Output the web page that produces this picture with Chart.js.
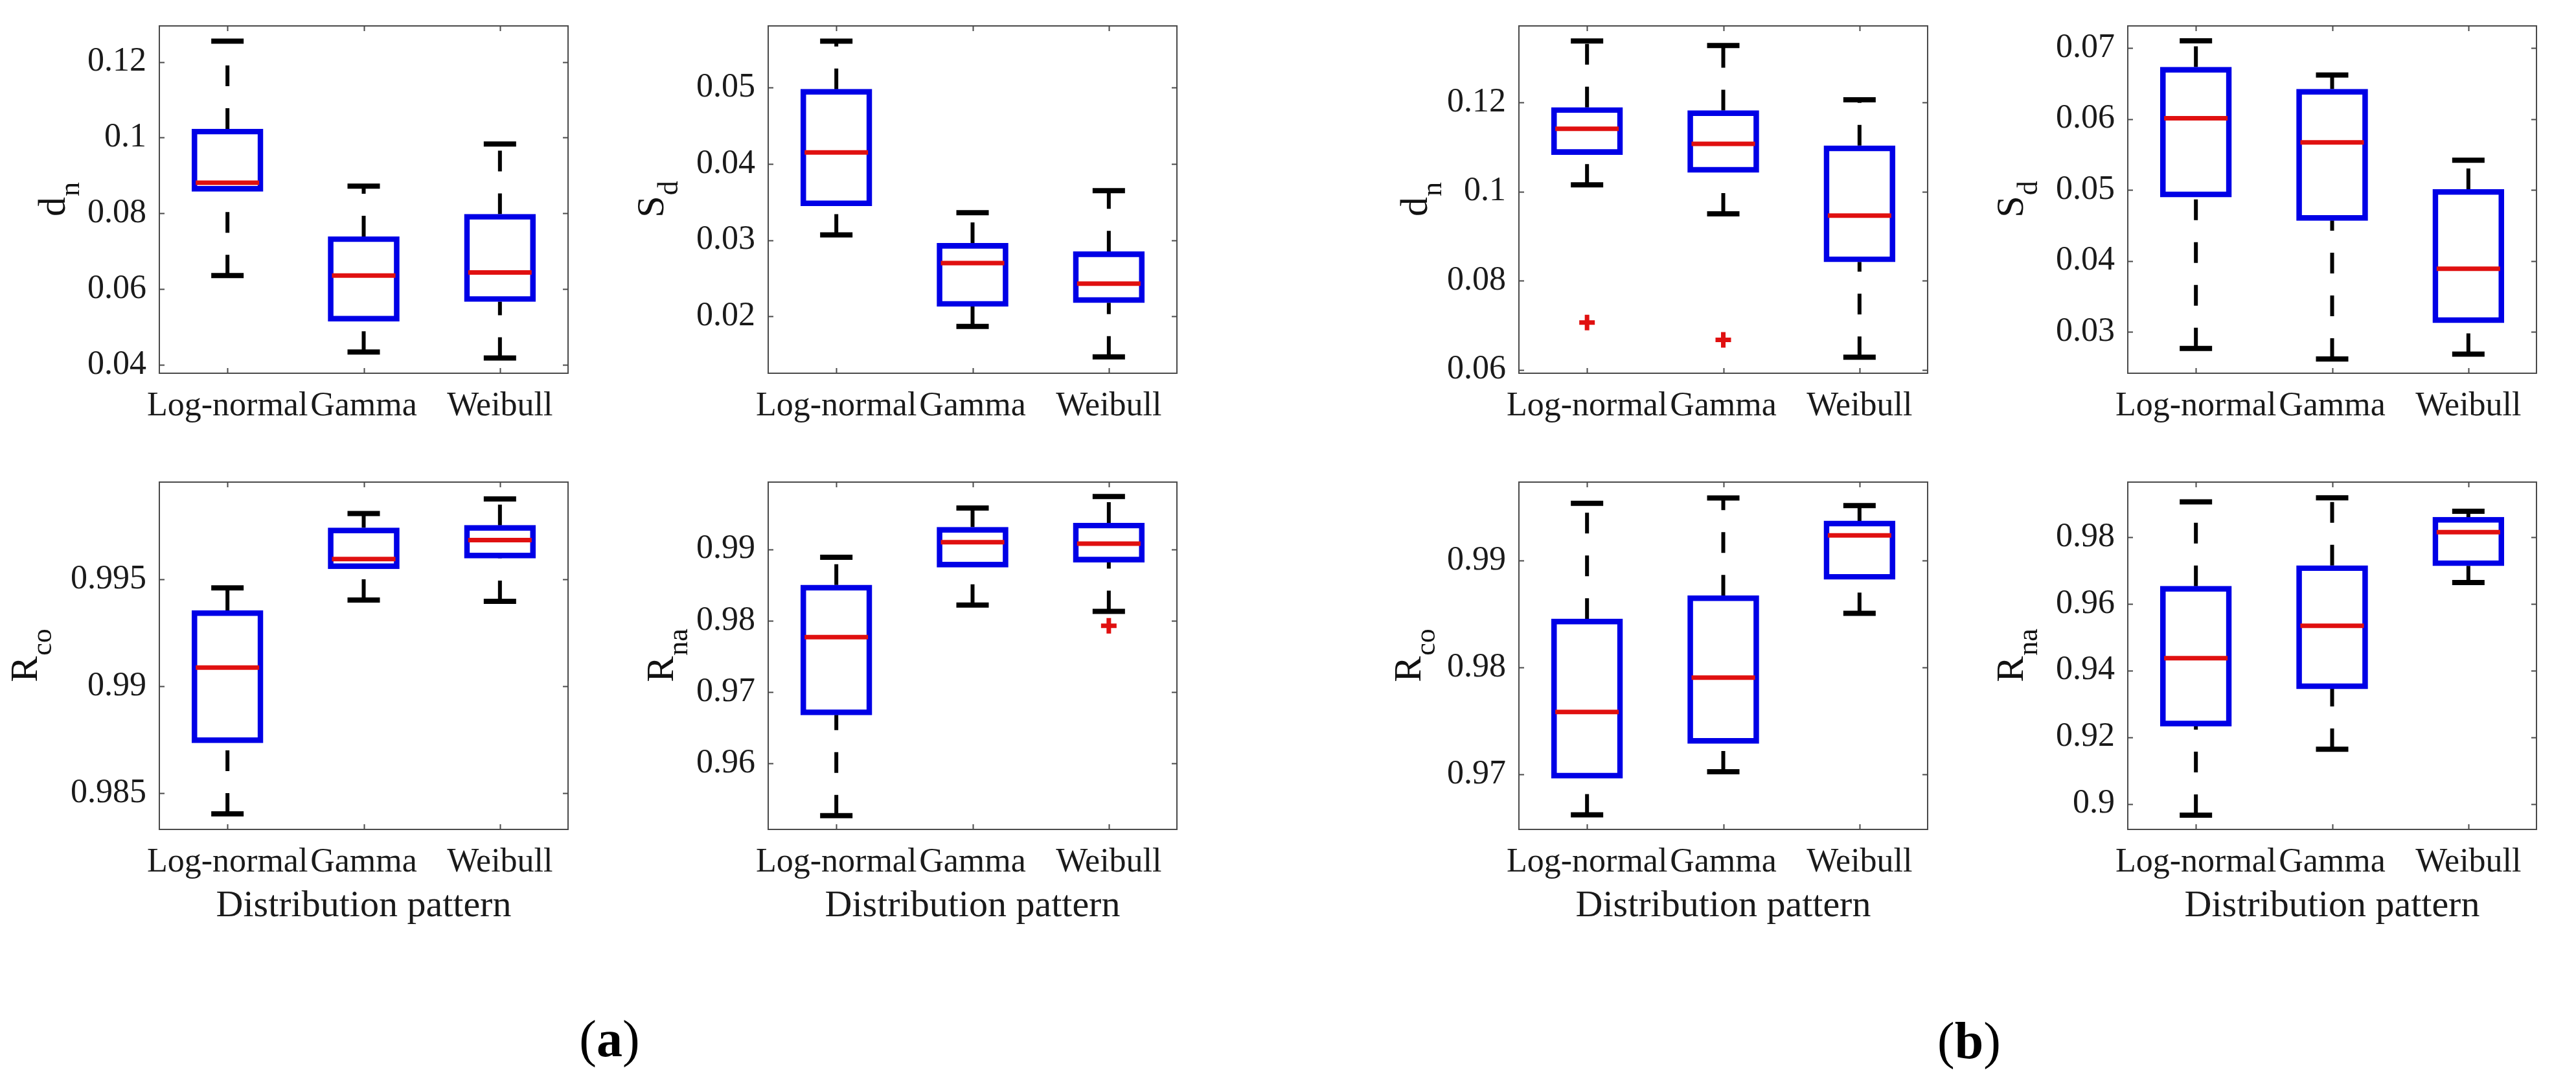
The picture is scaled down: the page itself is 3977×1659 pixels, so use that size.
<!DOCTYPE html>
<html>
<head>
<meta charset="utf-8">
<script src="https://cdn.jsdelivr.net/npm/chart.js@4.4.0/dist/chart.umd.min.js"></script>
<style>
html, body { margin: 0; padding: 0; background: #fff; }
body { width: 3977px; height: 1659px; position: relative; overflow: hidden; }
.panel { position: absolute; }
.tag { position: absolute; font-family: "Liberation Serif", "Times New Roman", serif; font-size: 80px; color: #000;
       transform: translate(-50%, -50%); white-space: nowrap; }
</style>
</head>
<body>
<div class="tag" style="left:941px;top:1603px">(<b>a</b>)</div>
<div class="tag" style="left:3040px;top:1606px">(<b>b</b>)</div>
<script>
// categories on x
const categories = ['Log-normal', 'Gamma', 'Weibull'];

// (a) d_n
const aDnLow  = [0.0636, 0.0434, 0.0418];
const aDnQ1   = [0.0858, 0.0515, 0.0567];
const aDnMed  = [0.0881, 0.0636, 0.0644];
const aDnQ3   = [0.1023, 0.0739, 0.0798];
const aDnHigh = [0.1255, 0.0872, 0.0983];
const aDnOut  = [];
const aDnTicks = [0.04, 0.06, 0.08, 0.1, 0.12];

// (a) S_d
const aSdLow  = [0.0307, 0.0187, 0.0147];
const aSdQ1   = [0.0345, 0.0213, 0.0218];
const aSdMed  = [0.0415, 0.0270, 0.0243];
const aSdQ3   = [0.0498, 0.0296, 0.0285];
const aSdHigh = [0.0561, 0.0336, 0.0365];
const aSdOut  = [];
const aSdTicks = [0.02, 0.03, 0.04, 0.05];

// (a) R_co
const aRcoLow  = [0.98403, 0.99403, 0.99397];
const aRcoQ1   = [0.98735, 0.99549, 0.99599];
const aRcoMed  = [0.99087, 0.99595, 0.99684];
const aRcoQ3   = [0.99354, 0.99741, 0.99753];
const aRcoHigh = [0.99460, 0.99808, 0.99876];
const aRcoOut  = [];
const aRcoTicks = [0.985, 0.99, 0.995];

// (a) R_na
const aRnaLow  = [0.9527, 0.9822, 0.9813];
const aRnaQ1   = [0.9668, 0.9875, 0.9882];
const aRnaMed  = [0.9777, 0.9910, 0.9908];
const aRnaQ3   = [0.9850, 0.9931, 0.9937];
const aRnaHigh = [0.9889, 0.9958, 0.9974];
const aRnaOut  = [[2, 0.9793]];
const aRnaTicks = [0.96, 0.97, 0.98, 0.99];

// (b) d_n
const bDnLow  = [0.1015, 0.0950, 0.0628];
const bDnQ1   = [0.1083, 0.1043, 0.0842];
const bDnMed  = [0.1141, 0.1107, 0.0946];
const bDnQ3   = [0.1189, 0.1182, 0.1103];
const bDnHigh = [0.1338, 0.1328, 0.1206];
const bDnOut  = [[0, 0.0706], [1, 0.0667]];
const bDnTicks = [0.06, 0.08, 0.1, 0.12];

// (b) S_d
const bSdLow  = [0.0277, 0.0262, 0.0269];
const bSdQ1   = [0.0490, 0.0457, 0.0313];
const bSdMed  = [0.0601, 0.0567, 0.0389];
const bSdQ3   = [0.0673, 0.0642, 0.0501];
const bSdHigh = [0.0710, 0.0662, 0.0542];
const bSdOut  = [];
const bSdTicks = [0.03, 0.04, 0.05, 0.06, 0.07];

// (b) R_co
const bRcoLow  = [0.96621, 0.97025, 0.98507];
const bRcoQ1   = [0.96963, 0.97289, 0.98823];
const bRcoMed  = [0.97584, 0.97905, 0.99235];
const bRcoQ3   = [0.98454, 0.98672, 0.99371];
const bRcoHigh = [0.99536, 0.99585, 0.99515];
const bRcoOut  = [];
const bRcoTicks = [0.97, 0.98, 0.99];

// (b) R_na
const bRnaLow  = [0.8966, 0.9164, 0.9664];
const bRnaQ1   = [0.9233, 0.9345, 0.9714];
const bRnaMed  = [0.9437, 0.9534, 0.9815];
const bRnaQ3   = [0.9653, 0.9715, 0.9860];
const bRnaHigh = [0.9906, 0.9918, 0.9878];
const bRnaOut  = [];
const bRnaTicks = [0.9, 0.92, 0.94, 0.96, 0.98];

const FONT = '"Liberation Serif", "Times New Roman", serif';
const BLUE = '#0000e6';
const RED = '#e01010';
const FRAME = '#4a4a4a';

// layout of the plot areas (pixels)
const PW = 675, PH = 552;
const Y_W = 260, TOP_PAD = 40, RIGHT_PAD = 12;

const panels = [
  { left: 246,  top: 24,  yMin: 0.0378,  yMax: 0.1295,  ticks: aDnTicks,  title: ['d', 'n'],  tOff: 146, xTitle: false,
    low: aDnLow, q1: aDnQ1, med: aDnMed, q3: aDnQ3, high: aDnHigh, out: aDnOut },
  { left: 1186, top: 24,  yMin: 0.01255, yMax: 0.0581,  ticks: aSdTicks,  title: ['S', 'd'],  tOff: 162, xTitle: false,
    low: aSdLow, q1: aSdQ1, med: aSdMed, q3: aSdQ3, high: aSdHigh, out: aSdOut },
  { left: 2345, top: 24,  yMin: 0.0592,  yMax: 0.1372,  ticks: bDnTicks,  title: ['d', 'n'],  tOff: 142, xTitle: false,
    low: bDnLow, q1: bDnQ1, med: bDnMed, q3: bDnQ3, high: bDnHigh, out: bDnOut },
  { left: 3285, top: 24,  yMin: 0.0242,  yMax: 0.0731,  ticks: bSdTicks,  title: ['S', 'd'],  tOff: 162, xTitle: false,
    low: bSdLow, q1: bSdQ1, med: bSdMed, q3: bSdQ3, high: bSdHigh, out: bSdOut },
  { left: 246,  top: 728, yMin: 0.9833,  yMax: 0.99955, ticks: aRcoTicks, title: ['R', 'co'], tOff: 189, xTitle: true,
    low: aRcoLow, q1: aRcoQ1, med: aRcoMed, q3: aRcoQ3, high: aRcoHigh, out: aRcoOut },
  { left: 1186, top: 728, yMin: 0.95076, yMax: 0.99942, ticks: aRnaTicks, title: ['R', 'na'], tOff: 147, xTitle: true,
    low: aRnaLow, q1: aRnaQ1, med: aRnaMed, q3: aRnaQ3, high: aRnaHigh, out: aRnaOut },
  { left: 2345, top: 728, yMin: 0.96485, yMax: 0.99734, ticks: bRcoTicks, title: ['R', 'co'], tOff: 152, xTitle: true,
    low: bRcoLow, q1: bRcoQ1, med: bRcoMed, q3: bRcoQ3, high: bRcoHigh, out: bRcoOut },
  { left: 3285, top: 728, yMin: 0.89233, yMax: 0.99653, ticks: bRnaTicks, title: ['R', 'na'], tOff: 162, xTitle: true,
    low: bRnaLow, q1: bRnaQ1, med: bRnaMed, q3: bRnaQ3, high: bRnaHigh, out: bRnaOut },
];

// box frame, inward ticks and the y label with subscript
const framePlugin = {
  id: 'frame',
  afterDraw(chart, args, opts) {
    const ctx = chart.ctx;
    const a = chart.chartArea;
    const xs = chart.scales.x, ys = chart.scales.y;
    ctx.save();
    ctx.strokeStyle = FRAME;
    ctx.lineWidth = 2;
    ctx.strokeRect(a.left, a.top, a.right - a.left, a.bottom - a.top);
    ctx.beginPath();
    for (const t of ys.ticks) {
      const y = Math.round(ys.getPixelForValue(t.value)) + 0.5;
      ctx.moveTo(a.left, y); ctx.lineTo(a.left + 8, y);
      ctx.moveTo(a.right, y); ctx.lineTo(a.right - 8, y);
    }
    for (const t of xs.ticks) {
      const x = Math.round(xs.getPixelForValue(t.value)) + 0.5;
      ctx.moveTo(x, a.bottom); ctx.lineTo(x, a.bottom - 8);
      ctx.moveTo(x, a.top); ctx.lineTo(x, a.top + 8);
    }
    ctx.stroke();

    // rotated y title: main letter + subscript
    const [main, sub] = opts.text;
    ctx.translate(a.left - opts.offset, (a.top + a.bottom) / 2);
    ctx.rotate(-Math.PI / 2);
    ctx.fillStyle = '#111';
    ctx.textBaseline = 'alphabetic';
    ctx.font = '60px ' + FONT;
    const wm = ctx.measureText(main).width;
    ctx.font = '44px ' + FONT;
    const ws = ctx.measureText(sub).width;
    const x0 = -(wm + ws) / 2;
    ctx.font = '60px ' + FONT;
    ctx.fillText(main, x0, 0);
    ctx.font = '44px ' + FONT;
    ctx.fillText(sub, x0 + wm + 1, 22);
    ctx.restore();
  }
};

function makePanel(p) {
  const xh = p.xTitle ? 170 : 100;
  const div = document.createElement('div');
  div.className = 'panel';
  const cw = Y_W + PW + RIGHT_PAD, chh = TOP_PAD + PH + xh;
  div.style.left = (p.left - Y_W) + 'px';
  div.style.top = (p.top - TOP_PAD) + 'px';
  div.style.width = cw + 'px';
  div.style.height = chh + 'px';
  const canvas = document.createElement('canvas');
  canvas.width = cw; canvas.height = chh;
  canvas.style.width = cw + 'px'; canvas.style.height = chh + 'px';
  div.appendChild(canvas);
  document.body.appendChild(div);

  const whiskers = [], caps = [], boxes = [], medians = [];
  categories.forEach((c, i) => {
    const x = i + 1;
    whiskers.push({ x, y: p.q3[i] }, { x, y: p.high[i] }, { x, y: null },
                  { x, y: p.low[i] }, { x, y: p.q1[i] }, { x, y: null });
    caps.push({ x, y: p.high[i] }, { x, y: p.low[i] });
    boxes.push({ x, y: [p.q1[i], p.q3[i]] });
    medians.push({ x, y: p.med[i] });
  });
  const outliers = p.out.map(([i, v]) => ({ x: i + 1, y: v }));

  new Chart(canvas, {
    type: 'bar',
    data: {
      datasets: [
        { type: 'line', data: whiskers, borderColor: '#000', borderWidth: 6, borderDash: [32, 34],
          pointRadius: 0, spanGaps: false, fill: false, order: 5 },
        { type: 'scatter', data: caps, pointStyle: 'line', radius: 25, borderWidth: 8,
          borderColor: '#000', order: 4 },
        { type: 'bar', data: boxes, backgroundColor: 'rgba(0,0,0,0)', borderColor: BLUE, borderWidth: 8,
          borderSkipped: false, barThickness: 110, order: 3 },
        { type: 'scatter', data: medians, pointStyle: 'line', radius: 49, borderWidth: 7,
          borderColor: RED, order: 1 },
        { type: 'scatter', data: outliers, pointStyle: 'cross', radius: 12, borderWidth: 7,
          borderColor: RED, order: 0 },
      ]
    },
    options: {
      responsive: false,
      animation: false,
      events: [],
      layout: { padding: { top: TOP_PAD, right: RIGHT_PAD, left: 0, bottom: 0 } },
      plugins: {
        legend: { display: false },
        tooltip: { enabled: false },
        frame: { text: p.title, offset: p.tOff }
      },
      scales: {
        x: {
          type: 'linear', min: 0.5, max: 3.5, offset: false,
          grid: { display: false, drawTicks: false },
          border: { display: false },
          afterBuildTicks: s => { s.ticks = categories.map((c, i) => ({ value: i + 1 })); },
          afterFit: s => { s.height = xh; },
          ticks: { autoSkip: false, maxRotation: 0, minRotation: 0, padding: 20, color: '#1a1a1a',
                   font: { family: FONT, size: 52 }, callback: v => categories[v - 1] },
          title: { display: p.xTitle, text: 'Distribution pattern', color: '#1a1a1a',
                   font: { family: FONT, size: 58 }, padding: { top: 0, bottom: 16 } }
        },
        y: {
          min: p.yMin, max: p.yMax,
          grid: { display: false, drawTicks: false },
          border: { display: false },
          afterBuildTicks: s => { s.ticks = p.ticks.map(v => ({ value: v })); },
          afterFit: s => { s.width = Y_W; },
          ticks: { padding: 20, color: '#1a1a1a', font: { family: FONT, size: 52 },
                   callback: v => String(+v.toFixed(4)) }
        }
      }
    },
    plugins: [framePlugin]
  });
}

panels.forEach(makePanel);
</script>
</body>
</html>
